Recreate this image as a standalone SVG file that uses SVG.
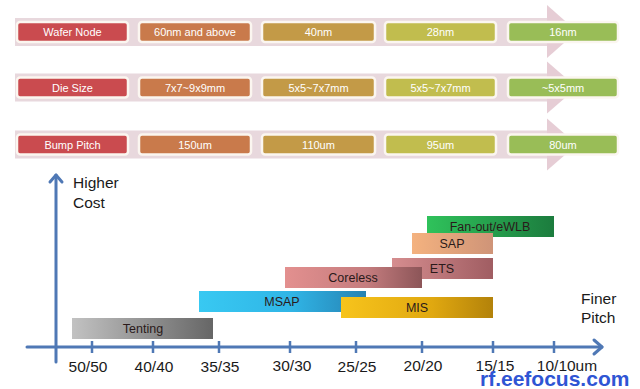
<svg xmlns="http://www.w3.org/2000/svg" width="640" height="389" viewBox="0 0 640 389">
<defs>
<style>
.band{fill:#e8d8dd}
.tri{fill:#e6cdd5}
.box{stroke:#fbf6f0;stroke-width:2.5}
.bt{font-family:"Liberation Sans",Arial,sans-serif;font-size:11px;fill:#ffffff;text-anchor:middle}
.ax{stroke:#4f78b5;stroke-width:3;fill:none;stroke-linecap:round;stroke-linejoin:round}
.tk{stroke:#4f78b5;stroke-width:2.5}
.tl{font-family:"Liberation Sans",Arial,sans-serif;font-size:15.5px;fill:#1a1a1a;text-anchor:middle}
.lab{font-family:"Liberation Sans",Arial,sans-serif;font-size:15.5px;fill:#1a1a1a}
.bar{font-family:"Liberation Sans",Arial,sans-serif;font-size:12.5px;fill:#2a1a1a;text-anchor:middle}
.wm{font-family:"Liberation Sans",Arial,sans-serif;font-size:21px;font-weight:bold;fill:#2f55d4}
</style>
<linearGradient id="gTent" x1="0" x2="1" y1="0" y2="0"><stop offset="0" stop-color="#c2c2c2"/><stop offset="1" stop-color="#666666"/></linearGradient>
<linearGradient id="gMsap" x1="0" x2="1" y1="0" y2="0"><stop offset="0" stop-color="#38c9f2"/><stop offset="0.55" stop-color="#30b5e6"/><stop offset="1" stop-color="#2682b3"/></linearGradient>
<linearGradient id="gCore" x1="0" x2="1" y1="0" y2="0"><stop offset="0" stop-color="#e3908f"/><stop offset="0.6" stop-color="#c47c7e"/><stop offset="1" stop-color="#8c5558"/></linearGradient>
<linearGradient id="gEts" x1="0" x2="1" y1="0" y2="0"><stop offset="0" stop-color="#d58d8f"/><stop offset="1" stop-color="#a05d62"/></linearGradient>
<linearGradient id="gSap" x1="0" x2="1" y1="0" y2="0"><stop offset="0" stop-color="#f4b27f"/><stop offset="1" stop-color="#cf9478"/></linearGradient>
<linearGradient id="gFan" x1="0" x2="1" y1="0" y2="0"><stop offset="0" stop-color="#2fc25b"/><stop offset="1" stop-color="#1c7c3e"/></linearGradient>
<linearGradient id="gMis" x1="0" x2="1" y1="0" y2="0"><stop offset="0" stop-color="#f7c41c"/><stop offset="0.6" stop-color="#e0a810"/><stop offset="1" stop-color="#b3820a"/></linearGradient>
</defs>
<rect width="640" height="389" fill="#ffffff"/>

<g id="row-wafer">
<rect class="band" x="15" y="18" width="533" height="28"/>
<polygon class="tri" points="547,5 577,31.5 547,58"/>
<rect class="box" x="17" y="22" width="111" height="20" rx="3" fill="#ca4b4f"/>
<rect class="box" x="139" y="22" width="112" height="20" rx="3" fill="#c97a4b"/>
<rect class="box" x="262" y="22" width="113" height="20" rx="3" fill="#c39a47"/>
<rect class="box" x="385" y="22" width="111" height="20" rx="3" fill="#c1bd4e"/>
<rect class="box" x="508" y="22" width="110" height="20" rx="3" fill="#99bd57"/>
<text class="bt" x="72.5" y="36">Wafer Node</text>
<text class="bt" x="195" y="36">60nm and above</text>
<text class="bt" x="318.5" y="36">40nm</text>
<text class="bt" x="440.5" y="36">28nm</text>
<text class="bt" x="563" y="36">16nm</text>
</g>

<g id="row-die">
<rect class="band" x="15" y="73.5" width="533" height="28"/>
<polygon class="tri" points="547,61.5 577,87.5 547,113.5"/>
<rect class="box" x="17" y="77.5" width="111" height="20" rx="3" fill="#ca4b4f"/>
<rect class="box" x="139" y="77.5" width="112" height="20" rx="3" fill="#c97a4b"/>
<rect class="box" x="262" y="77.5" width="113" height="20" rx="3" fill="#c39a47"/>
<rect class="box" x="385" y="77.5" width="111" height="20" rx="3" fill="#c1bd4e"/>
<rect class="box" x="508" y="77.5" width="110" height="20" rx="3" fill="#99bd57"/>
<text class="bt" x="72.5" y="91.5">Die Size</text>
<text class="bt" x="195" y="91.5">7x7~9x9mm</text>
<text class="bt" x="318.5" y="91.5">5x5~7x7mm</text>
<text class="bt" x="440.5" y="91.5">5x5~7x7mm</text>
<text class="bt" x="563" y="91.5">~5x5mm</text>
</g>

<g id="row-bump">
<rect class="band" x="15" y="130.5" width="533" height="28"/>
<polygon class="tri" points="547,118.5 577,144.5 547,170.5"/>
<rect class="box" x="17" y="134.5" width="111" height="20" rx="3" fill="#ca4b4f"/>
<rect class="box" x="139" y="134.5" width="112" height="20" rx="3" fill="#c97a4b"/>
<rect class="box" x="262" y="134.5" width="113" height="20" rx="3" fill="#c39a47"/>
<rect class="box" x="385" y="134.5" width="111" height="20" rx="3" fill="#c1bd4e"/>
<rect class="box" x="508" y="134.5" width="110" height="20" rx="3" fill="#99bd57"/>
<text class="bt" x="72.5" y="148.5">Bump Pitch</text>
<text class="bt" x="195" y="148.5">150um</text>
<text class="bt" x="318.5" y="148.5">110um</text>
<text class="bt" x="440.5" y="148.5">95um</text>
<text class="bt" x="563" y="148.5">80um</text>
</g>

<g id="connectors">
<line class="ax" x1="56" y1="362" x2="56" y2="175"/>
<polyline class="ax" points="50,182 56,175 62,182"/>
<line class="ax" x1="27" y1="347" x2="602" y2="347"/>
<polyline class="ax" points="594,340 602,347 594,354"/>
<line class="tk" x1="92" y1="341" x2="92" y2="353"/>
<line class="tk" x1="153" y1="341" x2="153" y2="353"/>
<line class="tk" x1="219" y1="341" x2="219" y2="353"/>
<line class="tk" x1="290" y1="341" x2="290" y2="353"/>
<line class="tk" x1="356" y1="341" x2="356" y2="353"/>
<line class="tk" x1="422" y1="341" x2="422" y2="353"/>
<line class="tk" x1="493" y1="341" x2="493" y2="353"/>
<line class="tk" x1="554" y1="341" x2="554" y2="353"/>
</g>

<g id="axis-labels">
<text class="lab" x="73" y="188">Higher</text>
<text class="lab" x="73" y="208">Cost</text>
<text class="lab" x="581" y="304">Finer</text>
<text class="lab" x="581" y="323">Pitch</text>
<text class="tl" x="88" y="372">50/50</text>
<text class="tl" x="154" y="372">40/40</text>
<text class="tl" x="220" y="372">35/35</text>
<text class="tl" x="292" y="371">30/30</text>
<text class="tl" x="357" y="372">25/25</text>
<text class="tl" x="423" y="371">20/20</text>
<text class="tl" x="495" y="371">15/15</text>
<text class="tl" x="567" y="371">10/10um</text>
</g>

<g id="bar-tenting">
<rect x="72" y="318" width="141" height="21" fill="url(#gTent)"/>
<text class="bar" x="143" y="333">Tenting</text>
</g>
<g id="bar-msap">
<rect x="199" y="291" width="167" height="21" fill="url(#gMsap)"/>
<text class="bar" x="282" y="306">MSAP</text>
</g>
<g id="bar-mis">
<rect x="341" y="297" width="152" height="21" fill="url(#gMis)"/>
<text class="bar" x="417" y="312">MIS</text>
</g>
<g id="bar-ets">
<rect x="392" y="258" width="101" height="21" fill="url(#gEts)"/>
<text class="bar" x="442" y="273">ETS</text>
</g>
<g id="bar-coreless">
<rect x="285" y="267" width="137" height="21" fill="url(#gCore)"/>
<text class="bar" x="353" y="282">Coreless</text>
</g>
<g id="bar-fanout">
<rect x="427" y="216" width="127" height="21" fill="url(#gFan)"/>
<text class="bar" x="490" y="231">Fan-out/eWLB</text>
</g>
<g id="bar-sap">
<rect x="412" y="233" width="81" height="21" fill="url(#gSap)"/>
<text class="bar" x="452" y="248">SAP</text>
</g>

<text class="wm" x="480" y="386">rf.eefocus.com</text>
</svg>
